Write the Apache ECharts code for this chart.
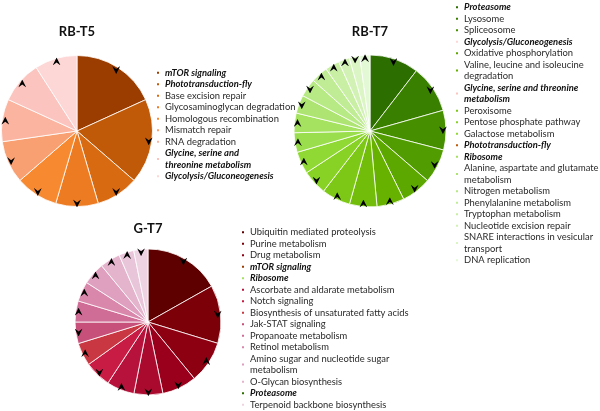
<!DOCTYPE html>
<html>
<head>
<meta charset="utf-8">
<script src="https://cdn.jsdelivr.net/npm/echarts@6/dist/echarts.min.js"></script>
<style>html,body{margin:0;padding:0;background:#fff;}#c{width:600px;height:411px;}</style>
</head>
<body>
<div id="c"></div>
<script>
// ---------- DATA ----------
const rbT5Names = ['mTOR signaling','Phototransduction-fly','Base excision repair','Glycosaminoglycan degradation','Homologous recombination','Mismatch repair','RNA degradation','Glycine, serine and threonine metabolism','Glycolysis/Gluconeogenesis'];
const rbT5Values = [2, 2, 1, 1, 1, 1, 1, 1, 1];
const rbT5Trend = ['down','down','down','down','down','down','up','up','up'];
const rbT5Bold = ['mTOR signaling','Phototransduction-fly','Glycine, serine and threonine metabolism','Glycolysis/Gluconeogenesis'];

const rbT7Names = ['Proteasome','Lysosome','Spliceosome','Glycolysis/Gluconeogenesis','Oxidative phosphorylation','Valine, leucine and isoleucine degradation','Glycine, serine and threonine metabolism','Peroxisome','Pentose phosphate pathway','Galactose metabolism','Phototransduction-fly','Ribosome','Alanine, aspartate and glutamate metabolism','Nitrogen metabolism','Phenylalanine metabolism','Tryptophan metabolism','Nucleotide excision repair','SNARE interactions in vesicular transport','DNA replication'];
const rbT7Values = [37.6, 36.6, 30.3, 26.3, 22.9, 21, 21, 22, 19, 17, 15, 15, 14, 14, 13, 11, 8.5, 8, 7.8];
const rbT7Trend = ['down','down','down','down','down','up','up','up','down','up','up','up','down','down','up','up','up','down','up'];
const rbT7Bold = ['Proteasome','Glycolysis/Gluconeogenesis','Glycine, serine and threonine metabolism','Phototransduction-fly','Ribosome'];

const gT7Names = ['Ubiquitin mediated proteolysis','Purine metabolism','Drug metabolism','mTOR signaling','Ribosome','Ascorbate and aldarate metabolism','Notch signaling','Biosynthesis of unsaturated fatty acids','Jak-STAT signaling','Propanoate metabolism','Retinol metabolism','Amino sugar and nucleotide sugar metabolism','O-Glycan biosynthesis','Proteasome','Terpenoid backbone biosynthesis'];
const gT7Values = [60.6, 46.4, 33.7, 27.5, 23, 22.1, 21.2, 18.3, 17.2, 16.8, 15.9, 17.8, 16.2, 12, 11.3];
const gT7Trend = ['down','down','up','down','down','up','down','up','down','up','up','up','up','up','down'];
const gT7Bold = ['mTOR signaling','Ribosome','Proteasome'];

const chartTitles = ['RB-T5', 'RB-T7', 'G-T7'];

// legend line breaks (text only)
const legendBreaks = {
  'RB-T5': {'Glycine, serine and threonine metabolism': ['Glycine, serine and', 'threonine metabolism']},
  'RB-T7': {
    'Valine, leucine and isoleucine degradation': ['Valine, leucine and isoleucine', 'degradation'],
    'Glycine, serine and threonine metabolism': ['Glycine, serine and threonine', 'metabolism'],
    'Alanine, aspartate and glutamate metabolism': ['Alanine, aspartate and glutamate', 'metabolism'],
    'SNARE interactions in vesicular transport': ['SNARE interactions in vesicular', 'transport']
  },
  'G-T7': {'Amino sugar and nucleotide sugar metabolism': ['Amino sugar and nucleotide sugar', 'metabolism']}
};

// ---------- STYLE ----------
const palT5 = ['#9B3D00','#C05A08','#D86A12','#EC7B22','#F78A31','#F9A072','#FBB4A0','#FCC4BE','#FDD6D6'];
const palT7 = ['#2D6E00','#3A8000','#469000','#519C00','#5CA700','#67B200','#72BD0A','#7DC816','#88D225','#90D935','#9ADE4E','#A4E260','#AEE572','#B7E984','#C0EC95','#C9EFA5','#D2F2B5','#DBF5C5','#E3F8D4'];
const palG7 = ['#5E0000','#7C0008','#8C0012','#9A001C','#A90A2E','#B7123B','#C91C44','#C93842','#C6507A','#D06D96','#D987AB','#DF9FBE','#E4B3CC','#E9C5D9','#EED4E3'];

const FONT = 'Lato';
const FS = 9.4;
const upSvg = 'data:image/svg+xml;charset=utf-8,' + encodeURIComponent("<svg xmlns='http://www.w3.org/2000/svg' width='32' height='32' viewBox='0 0 10 10'><path d='M0 10 L5 0 L10 10 L5 6.2 Z' fill='#000'/></svg>");
const dnSvg = 'data:image/svg+xml;charset=utf-8,' + encodeURIComponent("<svg xmlns='http://www.w3.org/2000/svg' width='32' height='32' viewBox='0 0 10 10'><path d='M0 0 L5 10 L10 0 L5 3.8 Z' fill='#000'/></svg>");

const pies = [
  {key:'RB-T5', names: rbT5Names, values: rbT5Values, trend: rbT5Trend, bold: rbT5Bold, pal: palT5, center:[77,131], r:75.5, legend:{left:155, top:67}},
  {key:'RB-T7', names: rbT7Names, values: rbT7Values, trend: rbT7Trend, bold: rbT7Bold, pal: palT7, center:[370,131], r:76, legend:{left:454, top:1.5}},
  {key:'G-T7', names: gT7Names, values: gT7Values, trend: gT7Trend, bold: gT7Bold, pal: palG7, center:[148,322], r:73, legend:{left:240, top:226.5}}
];

const series = [], legends = [], titles = [];
pies.forEach((p, k) => {
  series.push({
    type:'pie', name: p.key, center:p.center, radius:p.r, startAngle:90, clockwise:true,
    silent:true, label:{show:false}, labelLine:{show:false},
    itemStyle:{borderColor:'#fff', borderWidth:0.8},
    data: p.names.map((n,i)=>({name:n, value:p.values[i], itemStyle:{color:p.pal[i]}}))
  });
  series.push({
    type:'pie', name: p.key + ' trend', center:p.center, radius:[p.r*0.84, p.r], startAngle:90, clockwise:true,
    silent:true, labelLine:{show:false}, avoidLabelOverlap:false,
    itemStyle:{color:'rgba(0,0,0,0)', borderWidth:0},
    label:{show:true, position:'inside', rich:{
      up:{width:8, height:8, backgroundColor:{image:upSvg}},
      dn:{width:8, height:8, backgroundColor:{image:dnSvg}}
    }},
    data: p.names.map((n,i)=>({name:n, value:p.values[i], label:{formatter: p.trend[i]==='up' ? '{up|}' : '{dn|}'}}))
  });
  const br = legendBreaks[p.key];
  legends.push({
    orient:'vertical', left:p.legend.left, top:p.legend.top, padding:0, itemGap:0,
    itemWidth:4, itemHeight:4, icon:'rect', selectedMode:false,
    data: p.names,
    textStyle:{fontFamily:FONT, fontSize:FS, lineHeight:11.5, color:'#2a2a2a',
      rich:{bi:{fontFamily:FONT, fontSize:FS, lineHeight:11.5, color:'#111', fontWeight:'bold', fontStyle:'italic'}}},
    formatter: function(name){
      const lines = br[name] || [name];
      if (p.bold.indexOf(name) >= 0) return lines.map(l=>'{bi|'+l+'}').join('\n');
      return lines.join('\n');
    }
  });
  titles.push({text: chartTitles[k], left:p.center[0], top:32, padding:0, textAlign:'center', textVerticalAlign:'middle',
    textStyle:{fontFamily:FONT, fontWeight:'bold', fontSize:13, color:'#111'}});
});
titles[2].top = 229;

const chart = echarts.init(document.getElementById('c'), null, {renderer:'canvas'});
chart.setOption({animation:false, backgroundColor:'#fff', title:titles, legend:legends, series:series});
</script>
</body>
</html>
